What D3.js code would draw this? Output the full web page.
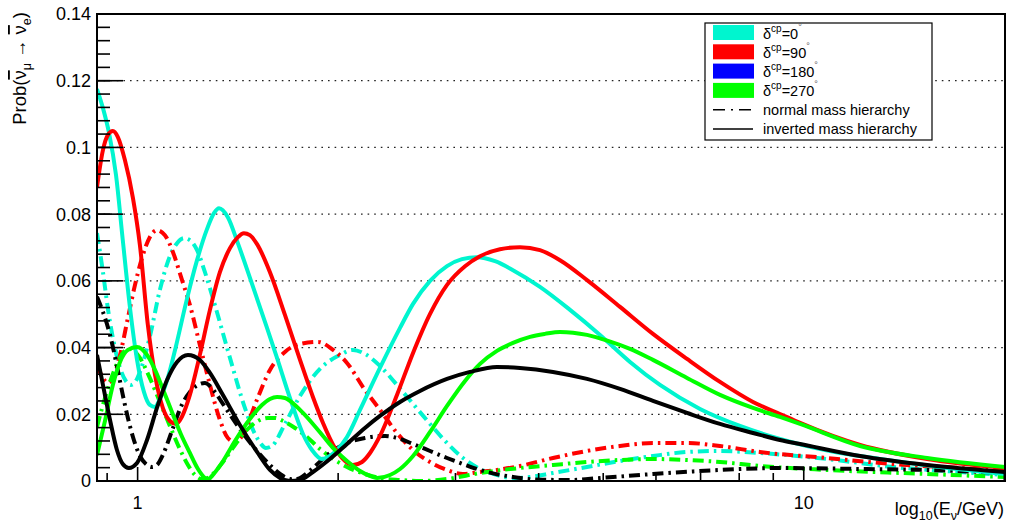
<!DOCTYPE html>
<html><head><meta charset="utf-8">
<script src="https://cdn.jsdelivr.net/npm/d3@7"></script>
<style>body{margin:0;background:#fff} text{font-family:"Liberation Sans",Arial,Helvetica,sans-serif;fill:#000}</style>
</head><body><svg id="c" width="1012" height="530"></svg>
<script>
// ---- data: [E (GeV), probability] ----
const cyanIH = [[0.869,0.1175],[0.887,0.1118],[0.906,0.1043],[0.928,0.0917],[0.950,0.0722],[0.974,0.0519],[0.998,0.0363],[1.022,0.0267],[1.043,0.0228],[1.062,0.0222],[1.080,0.0246],[1.110,0.0309],[1.142,0.0405],[1.182,0.0534],[1.228,0.0662],[1.271,0.0755],[1.302,0.0803],[1.325,0.0818],[1.366,0.0791],[1.414,0.0713],[1.485,0.0591],[1.564,0.0459],[1.619,0.0369],[1.693,0.0249],[1.771,0.0141],[1.827,0.0093],[1.891,0.0066],[1.978,0.0087],[2.062,0.0132],[2.157,0.0213],[2.311,0.0339],[2.477,0.0459],[2.591,0.0531],[2.748,0.0600],[2.914,0.0644],[3.068,0.0665],[3.232,0.0671],[3.440,0.0659],[3.660,0.0632],[4.018,0.0582],[4.458,0.0513],[4.945,0.0438],[5.485,0.0357],[6.084,0.0288],[6.987,0.0216],[8.022,0.0165],[9.211,0.0126],[10.95,0.0090],[13.02,0.0066],[16.02,0.0042],[20.05,0.0021]];
const redIH = [[0.869,0.0881],[0.887,0.0992],[0.902,0.1037],[0.918,0.1049],[0.934,0.1031],[0.957,0.0962],[0.984,0.0848],[1.008,0.0707],[1.036,0.0468],[1.062,0.0318],[1.091,0.0219],[1.118,0.0180],[1.142,0.0171],[1.165,0.0192],[1.198,0.0258],[1.240,0.0378],[1.284,0.0513],[1.329,0.0626],[1.376,0.0698],[1.414,0.0731],[1.444,0.0743],[1.474,0.0737],[1.511,0.0710],[1.580,0.0626],[1.664,0.0498],[1.753,0.0363],[1.833,0.0252],[1.898,0.0174],[1.978,0.0099],[2.048,0.0060],[2.105,0.0048],[2.172,0.0057],[2.233,0.0084],[2.311,0.0135],[2.451,0.0258],[2.591,0.0384],[2.748,0.0501],[2.914,0.0588],[3.101,0.0644],[3.266,0.0674],[3.499,0.0695],[3.750,0.0701],[4.018,0.0692],[4.306,0.0662],[4.744,0.0600],[5.299,0.0522],[5.938,0.0441],[6.680,0.0366],[7.487,0.0297],[8.391,0.0237],[9.211,0.0201],[9.873,0.0174],[12.15,0.0108],[15.32,0.0066],[20.05,0.0039]];
const greenIH = [[0.869,0.0078],[0.894,0.0183],[0.918,0.0288],[0.941,0.0357],[0.967,0.0393],[0.998,0.0402],[1.033,0.0378],[1.062,0.0333],[1.091,0.0276],[1.126,0.0207],[1.161,0.0141],[1.198,0.0084],[1.232,0.0036],[1.262,0.0009],[1.275,0.0004],[1.293,0.0015],[1.338,0.0054],[1.400,0.0120],[1.474,0.0186],[1.537,0.0228],[1.580,0.0246],[1.619,0.0252],[1.664,0.0249],[1.693,0.0240],[1.771,0.0204],[1.833,0.0171],[1.898,0.0135],[1.978,0.0093],[2.062,0.0060],[2.157,0.0030],[2.233,0.0015],[2.288,0.0009],[2.393,0.0018],[2.477,0.0036],[2.591,0.0075],[2.748,0.0147],[2.914,0.0225],[3.101,0.0300],[3.266,0.0351],[3.463,0.0390],[3.660,0.0414],[3.882,0.0432],[4.088,0.0441],[4.306,0.0447],[4.727,0.0438],[5.084,0.0420],[5.485,0.0396],[5.938,0.0363],[6.680,0.0309],[7.487,0.0258],[8.391,0.0219],[9.211,0.0192],[9.873,0.0171],[12.15,0.0105],[15.32,0.0069],[20.05,0.0042]];
const blackIH = [[0.869,0.0378],[0.887,0.0288],[0.909,0.0183],[0.931,0.0093],[0.950,0.0051],[0.970,0.0039],[0.998,0.0054],[1.033,0.0123],[1.069,0.0219],[1.107,0.0303],[1.146,0.0357],[1.190,0.0378],[1.240,0.0363],[1.284,0.0324],[1.343,0.0258],[1.424,0.0168],[1.511,0.0087],[1.580,0.0033],[1.636,0.0009],[1.693,0.0],[1.753,0.0003],[1.833,0.0027],[1.944,0.0066],[2.062,0.0111],[2.194,0.0159],[2.311,0.0195],[2.477,0.0237],[2.654,0.0270],[2.914,0.0306],[3.155,0.0327],[3.463,0.0342],[3.750,0.0339],[4.203,0.0327],[4.727,0.0306],[5.299,0.0276],[5.938,0.0240],[6.680,0.0204],[7.487,0.0171],[8.391,0.0144],[9.211,0.0123],[9.873,0.0111],[12.15,0.0075],[15.32,0.0048],[20.05,0.0027]];
const cyanNH = [[0.869,0.0743],[0.887,0.0627],[0.902,0.0519],[0.918,0.0429],[0.941,0.0339],[0.960,0.0300],[0.977,0.0288],[0.994,0.0300],[1.008,0.0327],[1.043,0.0432],[1.080,0.0573],[1.118,0.0674],[1.146,0.0713],[1.174,0.0728],[1.198,0.0722],[1.228,0.0692],[1.262,0.0626],[1.306,0.0528],[1.376,0.0369],[1.449,0.0219],[1.500,0.0141],[1.532,0.0111],[1.558,0.0099],[1.591,0.0105],[1.664,0.0171],[1.753,0.0255],[1.878,0.0336],[2.013,0.0378],[2.105,0.0393],[2.194,0.0381],[2.311,0.0345],[2.451,0.0288],[2.591,0.0231],[2.748,0.0171],[2.914,0.0114],[3.079,0.0069],[3.266,0.0036],[3.463,0.0018],[3.660,0.0009],[3.882,0.0012],[4.203,0.0024],[4.727,0.0042],[5.299,0.0060],[5.938,0.0075],[6.680,0.0087],[7.487,0.0090],[8.596,0.0084],[10.84,0.0066],[13.62,0.0042],[17.17,0.0027],[20.05,0.0018]];
const redNH = [[0.869,0.0348],[0.887,0.0309],[0.902,0.0294],[0.918,0.0309],[0.941,0.0378],[0.967,0.0489],[0.991,0.0588],[1.015,0.0668],[1.043,0.0731],[1.069,0.0752],[1.099,0.0737],[1.130,0.0686],[1.166,0.0602],[1.198,0.0528],[1.240,0.0408],[1.284,0.0288],[1.329,0.0183],[1.366,0.0129],[1.400,0.0117],[1.439,0.0138],[1.510,0.0243],[1.580,0.0333],[1.664,0.0387],[1.753,0.0411],[1.865,0.0417],[1.965,0.0393],[2.062,0.0354],[2.194,0.0273],[2.312,0.0213],[2.451,0.0144],[2.590,0.0093],[2.747,0.0057],[2.913,0.0033],[3.079,0.0021],[3.265,0.0027],[3.463,0.0033],[3.750,0.0045],[4.203,0.0069],[4.727,0.0090],[5.297,0.0105],[5.937,0.0114],[6.678,0.0114],[7.484,0.0105],[8.593,0.0087],[10.83,0.0069],[13.61,0.0051],[17.15,0.0039],[20.04,0.0030]];
const greenNH = [[0.869,0.0162],[0.887,0.0228],[0.909,0.0297],[0.934,0.0357],[0.957,0.0390],[0.974,0.0396],[1.008,0.0369],[1.043,0.0309],[1.080,0.0237],[1.118,0.0165],[1.157,0.0096],[1.190,0.0048],[1.219,0.0018],[1.249,0.0006],[1.275,0.0009],[1.306,0.0027],[1.343,0.0057],[1.400,0.0108],[1.459,0.0153],[1.516,0.0180],[1.569,0.0189],[1.608,0.0189],[1.653,0.0180],[1.723,0.0159],[1.796,0.0132],[1.878,0.0096],[1.978,0.0063],[2.062,0.0042],[2.194,0.0021],[2.311,0.0009],[2.477,0.0003],[2.654,0.0],[2.914,0.0006],[3.266,0.0024],[3.750,0.0039],[4.203,0.0048],[4.727,0.0057],[5.299,0.0063],[5.938,0.0066],[6.680,0.0063],[7.487,0.0057],[8.596,0.0045],[10.84,0.0033],[15.32,0.0021],[20.05,0.0012]];
const blackNH = [[0.869,0.0552],[0.887,0.0507],[0.909,0.0438],[0.931,0.0345],[0.950,0.0258],[0.967,0.0189],[0.984,0.0132],[1.008,0.0075],[1.033,0.0048],[1.051,0.0042],[1.069,0.0048],[1.091,0.0078],[1.130,0.0159],[1.165,0.0228],[1.198,0.0267],[1.240,0.0291],[1.262,0.0294],[1.284,0.0285],[1.306,0.0267],[1.343,0.0231],[1.424,0.0156],[1.511,0.0090],[1.580,0.0048],[1.636,0.0021],[1.693,0.0006],[1.723,0.0004],[1.753,0.0009],[1.833,0.0039],[1.944,0.0084],[2.062,0.0114],[2.194,0.0129],[2.352,0.0135],[2.477,0.0126],[2.591,0.0111],[2.748,0.0090],[2.914,0.0069],[3.079,0.0051],[3.266,0.0033],[3.660,0.0012],[4.018,0.0004],[4.458,0.0003],[4.945,0.0009],[5.938,0.0021],[7.487,0.0033],[9.211,0.0039],[12.15,0.0036],[15.32,0.0033],[20.05,0.0024]];

const xMajorTicks = [1, 10];
const xMajorLabels = ["1", "10"];
const xMinorTicks = [0.9, 2, 3, 4, 5, 6, 7, 8, 9, 20];
const yMajorTicks = [0, 0.02, 0.04, 0.06, 0.08, 0.1, 0.12, 0.14];
const yTickLabels = ["0", "0.02", "0.04", "0.06", "0.08", "0.1", "0.12", "0.14"];
const legendDeltas = ["0", "90", "180", "270"];
const legendColors = ["#00f5cf", "#ff0000", "#0000ff", "#00ff00"];
const legendLineLabels = ["normal mass hierarchy", "inverted mass hierarchy"];

// ---- layout ----
const L = 97, R = 1005, T = 14, B = 481;
const svg = d3.select("#c");
const x = d3.scaleLog().domain([0.869, 20.05]).range([L, R]);
const y = d3.scaleLinear().domain([0, 0.14]).range([B, T]);
const FONT = 18;

svg.append("rect").attr("width",1012).attr("height",530).attr("fill","#fff");

// grid
svg.append("g").selectAll("line").data(yMajorTicks.slice(1)).join("line")
  .attr("x1", L).attr("x2", R).attr("y1", d => y(d)).attr("y2", d => y(d))
  .attr("stroke", "#222").attr("stroke-width", 1.2).attr("stroke-dasharray", "1.6,5");

// curves
svg.append("clipPath").attr("id","clip").append("rect").attr("x",L).attr("y",T).attr("width",R-L).attr("height",B-T);
const line = d3.line().x(d => x(d[0])).y(d => y(d[1])).curve(d3.curveMonotoneX);
const DASHDOT = "11,5,2.5,5";
const series = [
  {d: cyanNH, c: legendColors[0], dash: DASHDOT},
  {d: redNH, c: legendColors[1], dash: DASHDOT},
  {d: greenNH, c: legendColors[3], dash: DASHDOT},
  {d: blackNH, c: "#000", dash: DASHDOT},
  {d: cyanIH, c: legendColors[0], dash: null},
  {d: redIH, c: legendColors[1], dash: null},
  {d: greenIH, c: legendColors[3], dash: null},
  {d: blackIH, c: "#000", dash: null}
];
const cg = svg.append("g").attr("clip-path","url(#clip)");
series.forEach(s => {
  cg.append("path").attr("d", line(s.d)).attr("fill","none").attr("stroke", s.c)
    .attr("stroke-width", 4).attr("stroke-dasharray", s.dash);
});

// frame
svg.append("rect").attr("x",L).attr("y",T).attr("width",R-L).attr("height",B-T)
  .attr("fill","none").attr("stroke","#000").attr("stroke-width",2);

// x ticks
const ax = svg.append("g").attr("stroke","#000").attr("stroke-width",1.6);
xMajorTicks.forEach(t => ax.append("line").attr("x1",x(t)).attr("x2",x(t)).attr("y1",B).attr("y2",B-14));
xMinorTicks.forEach(t => ax.append("line").attr("x1",x(t)).attr("x2",x(t)).attr("y1",B).attr("y2",B-8));
// y ticks
yMajorTicks.forEach(t => ax.append("line").attr("x1",L).attr("x2",L+26).attr("y1",y(t)).attr("y2",y(t)));
d3.range(0, 0.1401, 0.004).forEach(t => ax.append("line").attr("x1",L).attr("x2",L+13).attr("y1",y(t)).attr("y2",y(t)));

// tick labels
svg.append("g").selectAll("text").data(xMajorTicks).join("text")
  .attr("x", d => x(d)).attr("y", 509).attr("text-anchor","middle").attr("font-size",FONT)
  .text((d,i) => xMajorLabels[i]);
svg.append("g").selectAll("text").data(yMajorTicks).join("text")
  .attr("x", 91).attr("y", d => y(d)).attr("dy","0.36em").attr("text-anchor","end").attr("font-size",FONT)
  .text((d,i) => yTickLabels[i]);

// axis titles
const xt = svg.append("text").attr("x", 1004).attr("y", 515).attr("text-anchor","end").attr("font-size",FONT);
xt.append("tspan").text("log");
xt.append("tspan").attr("font-size",12.5).attr("dy",5).text("10");
xt.append("tspan").attr("dy",-5).text("(E");
xt.append("tspan").attr("font-size",12.5).attr("dy",5).text("ν");
xt.append("tspan").attr("dy",-5).text("/GeV)");

const yt = svg.append("text").attr("transform","translate(26,12) rotate(-90)").attr("text-anchor","end").attr("font-size",18.5);
yt.append("tspan").text("Prob(");
yt.append("tspan").style("text-decoration","overline").text("ν");
yt.append("tspan").attr("font-size",12.5).attr("dy",4.5).text("μ");
yt.append("tspan").attr("dy",-4.5).text(" → ");
yt.append("tspan").style("text-decoration","overline").text("ν");
yt.append("tspan").attr("font-size",12.5).attr("dy",4.5).text("e");
yt.append("tspan").attr("dy",-4.5).text(")");

// legend
const lg = svg.append("g");
lg.append("rect").attr("x",705).attr("y",23).attr("width",227).attr("height",117)
  .attr("fill","#fff").attr("stroke","#000").attr("stroke-width",1.2);
const rowY = i => 32.5 + i*19.3;
legendDeltas.forEach((dv,i) => {
  lg.append("rect").attr("x",713).attr("y",rowY(i)-7.5).attr("width",41).attr("height",15).attr("fill",legendColors[i]);
  const t = lg.append("text").attr("x",763).attr("y",rowY(i)+6).attr("font-size",14.5);
  t.append("tspan").text("δ");
  t.append("tspan").attr("font-size",10).attr("dy",-7).text("cp");
  t.append("tspan").attr("dy",7).text("=" + dv);
  t.append("tspan").attr("font-size",9).attr("dy",-9).attr("fill","#555").text("°");
});
legendLineLabels.forEach((lab,i) => {
  const yy = rowY(4+i);
  lg.append("line").attr("x1",713).attr("x2",753).attr("y1",yy).attr("y2",yy)
    .attr("stroke","#000").attr("stroke-width",1.5).attr("stroke-dasharray", i===0 ? "12,6,2,6" : null);
  lg.append("text").attr("x",763).attr("y",yy+5).attr("font-size",14.5).text(lab);
});
</script></body></html>
